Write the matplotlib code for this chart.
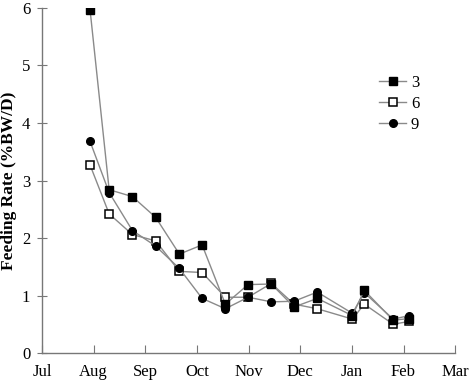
import matplotlib
matplotlib.use("Agg")
import matplotlib.pyplot as plt

# sampling dates, in months after 1 Jul
months = [0.93, 1.30, 1.75, 2.20, 2.66, 3.10, 3.55, 3.99, 4.44, 4.88, 5.33, 6.01, 6.24, 6.80, 7.11]

# feeding rate (%BW/D) per group
rate_3 = [5.97, 2.84, 2.72, 2.36, 1.72, 1.88, 0.85, 1.19, 1.20, 0.80, 0.95, 0.65, 1.09, 0.57, 0.60]
rate_6 = [3.27, 2.42, 2.06, 1.95, 1.42, 1.40, 0.97, 0.97, 1.21, 0.85, 0.77, 0.59, 0.85, 0.50, 0.55]
rate_9 = [3.68, 2.79, 2.13, 1.86, 1.47, 0.95, 0.77, 0.97, 0.89, 0.90, 1.06, 0.69, 1.05, 0.59, 0.65]

month_labels = ["Jul", "Aug", "Sep", "Oct", "Nov", "Dec", "Jan", "Feb", "Mar"]

plt.rcParams['font.family'] = ['Liberation Serif', 'DejaVu Serif']

fig = plt.figure(figsize=(4.7, 3.8), dpi=100)
ax = fig.add_axes([0.0894, 0.071, 0.879, 0.908])

line_col = '#8a8a8a'
ax.plot(months, rate_6, color=line_col, lw=1, marker='s', ms=5.5,
        mfc='white', mec='black', mew=1.1, label='6', zorder=3)
ax.plot(months, rate_9, color=line_col, lw=1, marker='o', ms=5.5,
        mfc='black', mec='black', label='9', zorder=4)
ax.plot(months, rate_3, color=line_col, lw=1, marker='s', ms=5.5,
        mfc='black', mec='black', label='3', zorder=5)

ax.set_xlim(0, 8)
ax.set_ylim(0, 6)
ax.set_xticks(range(9))
ax.set_xticklabels(month_labels)
ax.set_yticks(range(7))

for s in ['top', 'right']:
    ax.spines[s].set_visible(False)
for s in ['left', 'bottom']:
    ax.spines[s].set_color('#777777')
    ax.spines[s].set_linewidth(1)

ax.tick_params(axis='x', direction='in', length=6, color='#777777', labelsize=12, pad=8)
ax.tick_params(axis='y', direction='inout', length=7, color='#777777', labelsize=12, pad=5)

ax.set_ylabel('Feeding Rate (%BW/D)', fontsize=12.5, fontweight='bold')
ax.yaxis.set_label_coords(-0.06, 0.5)

handles, labels = ax.get_legend_handles_labels()
order = [2, 0, 1]
ax.legend([handles[i] for i in order], [labels[i] for i in order],
          loc='upper left', bbox_to_anchor=(0.78, 0.85), frameon=False,
          handlelength=1.6, handletextpad=0.3, labelspacing=0.3, fontsize=12)

fig.savefig('out.png', dpi=100)
